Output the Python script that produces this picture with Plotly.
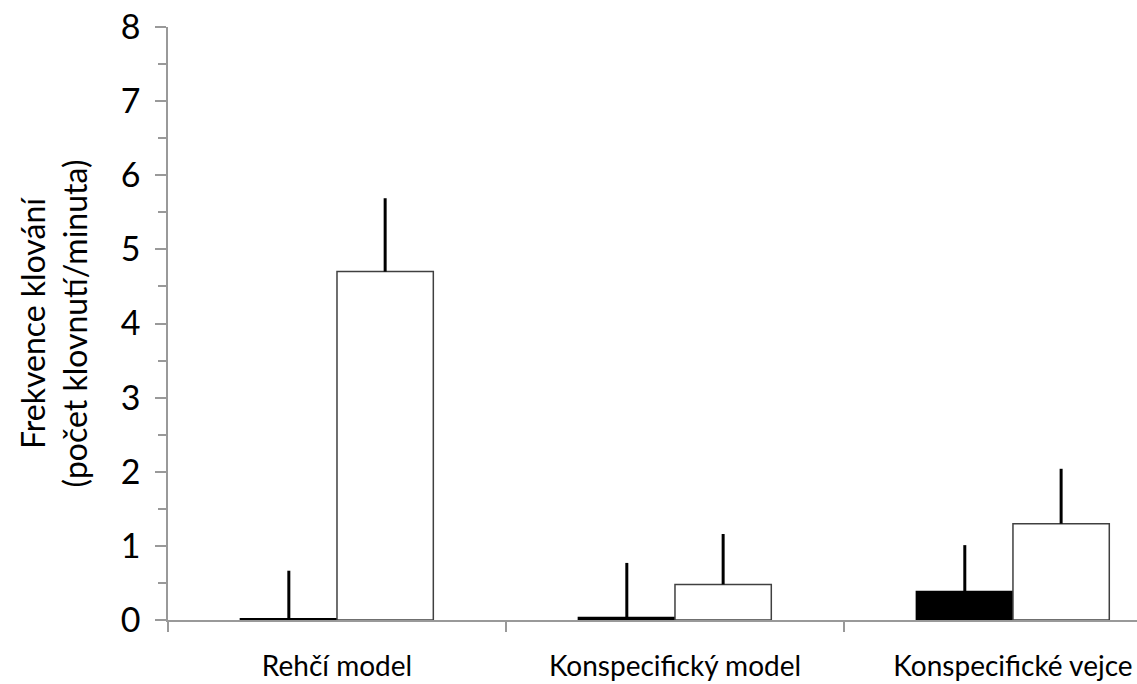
import plotly.graph_objects as go

categories = ["Rehčí model", "Konspecifický model", "Konspecifické vejce"]
black_values = [0.015, 0.03, 0.38]
black_errors = [0.65, 0.74, 0.63]
white_values = [4.70, 0.48, 1.30]
white_errors = [0.99, 0.68, 0.74]
y_ticks = [0, 1, 2, 3, 4, 5, 6, 7, 8]

FONT = "Lato"

fig = go.Figure()
fig.add_trace(go.Bar(
    x=categories, y=black_values,
    marker=dict(color="black", line=dict(color="black", width=2)),
    error_y=dict(type="data", symmetric=False, array=black_errors,
                 arrayminus=[0] * len(black_errors),
                 color="black", thickness=3, width=0),
    showlegend=False,
))
fig.add_trace(go.Bar(
    x=categories, y=white_values,
    marker=dict(color="white", line=dict(color="#404040", width=1.5)),
    error_y=dict(type="data", symmetric=False, array=white_errors,
                 arrayminus=[0] * len(white_errors),
                 color="black", thickness=3, width=0),
    showlegend=False,
))

fig.update_layout(
    width=1137, height=684,
    margin=dict(l=168, r=0, t=27, b=64),
    plot_bgcolor="white", paper_bgcolor="white",
    barmode="group", bargap=0.43, bargroupgap=0,
    font=dict(family=FONT, color="black"),
)
fig.update_xaxes(
    type="category", range=[-0.5, 2.367],
    showline=True, linecolor="#999999", linewidth=2,
    ticks="outside", tickson="boundaries", ticklen=10, tickcolor="#999999", tickwidth=1.5,
    tickfont=dict(size=28, family=FONT, color="black"),
    ticklabelstandoff=20,
    showgrid=False, zeroline=False,
)
fig.update_yaxes(
    range=[0, 8], tickvals=y_ticks,
    showline=True, linecolor="#999999", linewidth=1.5,
    ticks="outside", ticklen=11, tickcolor="#999999", tickwidth=1.5,
    minor=dict(dtick=0.5, ticks="outside", ticklen=8, tickcolor="#999999", tickwidth=1.5, showgrid=False),
    tickfont=dict(size=34, family=FONT, color="black"),
    ticklabelstandoff=8,
    showgrid=False, zeroline=False,
    title=dict(text="Frekvence klování<br>(počet klovnutí/minuta)",
               font=dict(size=32, family=FONT, color="black"), standoff=24),
)

fig.write_html("out.html")
